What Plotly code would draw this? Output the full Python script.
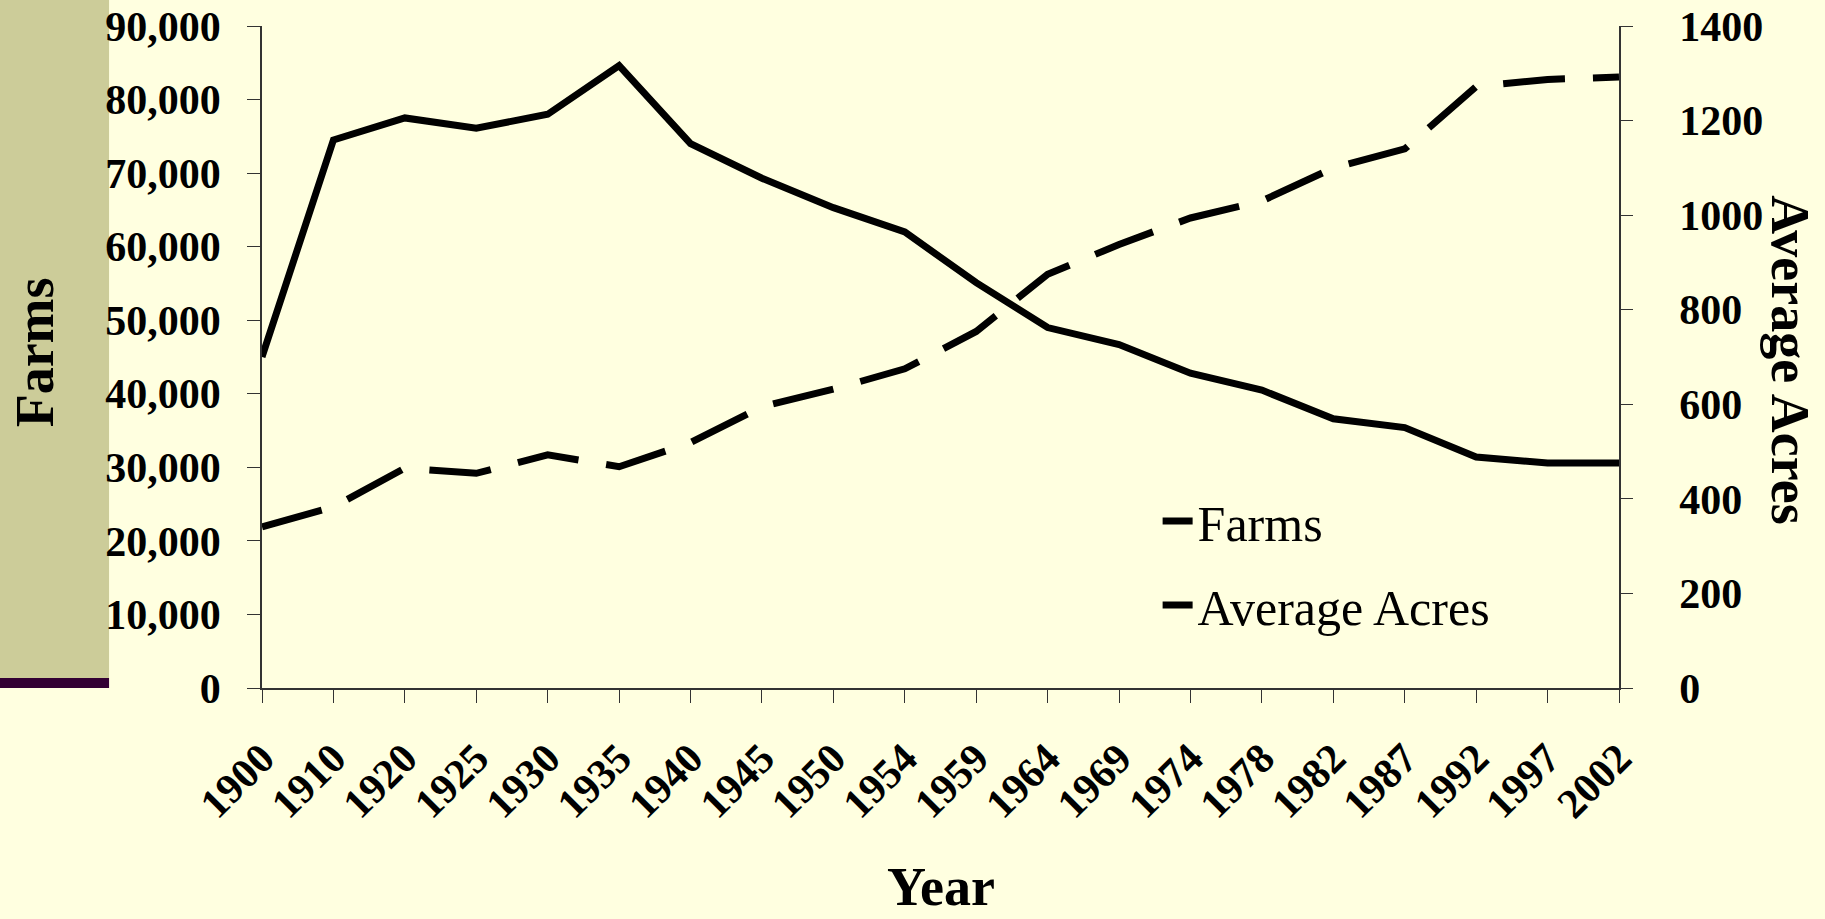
import plotly.graph_objects as go

# data
years = ["1900", "1910", "1920", "1925", "1930", "1935", "1940", "1945", "1950", "1954",
         "1959", "1964", "1969", "1974", "1978", "1982", "1987", "1992", "1997", "2002"]
farms = [45000, 74500, 77500, 76100, 78000, 84600, 74000, 69300, 65300, 62000,
         55100, 49000, 46700, 42800, 40500, 36600, 35400, 31400, 30600, 30600]
avg_acres = [341, 383, 465, 454, 493, 468, 519, 595, 632, 675,
             754, 875, 938, 994, 1030, 1100, 1140, 1272, 1287, 1292]

BG = "#FFFFE0"
serif = "Liberation Serif"

fig = go.Figure()

fig.add_trace(go.Scatter(
    x=years, y=farms, name="Farms", mode="lines",
    line=dict(color="black", width=7), legendgroup="a",
))
fig.add_trace(go.Scatter(
    x=years, y=avg_acres, name="Average Acres", mode="lines", yaxis="y2",
    line=dict(color="black", width=7, dash="62px,28px"), legendgroup="b",
))

tick_font = dict(family=serif, size=42, color="black", weight="bold")
title_font = dict(family=serif, size=54, color="black", weight="bold")

fig.update_layout(
    width=1825, height=919,
    paper_bgcolor=BG, plot_bgcolor=BG,
    margin=dict(l=262, r=206, t=26, b=231, autoexpand=False),
    xaxis=dict(
        type="category", range=[0, len(years) - 1], autorange=False,
        showline=True, linecolor="#333333", linewidth=1.5,
        ticks="outside", ticklen=13, tickcolor="#333333",
        tickangle=-45, tickfont=tick_font, showgrid=False,
        ticklabelstandoff=14, automargin=False,
    ),
    yaxis=dict(
        range=[0, 90000], dtick=10000, tickformat=",d",
        showline=True, linecolor="#333333", linewidth=1.5,
        ticks="outside", ticklen=13, tickcolor="#333333",
        tickfont=tick_font, showgrid=False, zeroline=False,
        ticklabelstandoff=18, automargin=False,
    ),
    yaxis2=dict(
        range=[0, 1400], dtick=200, tickformat="d",
        overlaying="y", side="right",
        showline=True, linecolor="#333333", linewidth=1.5,
        ticks="outside", ticklen=12, tickcolor="#333333",
        tickfont=tick_font, showgrid=False, zeroline=False,
        ticklabelstandoff=38, automargin=False,
    ),
    legend=dict(
        x=0.66, y=0.311, xanchor="left", yanchor="top",
        bgcolor="rgba(0,0,0,0)", tracegroupgap=16,
        font=dict(family=serif, size=50, color="black"),
    ),
    shapes=[
        dict(type="rect", xref="paper", yref="paper",
             x0=-0.1931, x1=-0.1127, y0=0.0151, y1=1.04,
             fillcolor="#CCCC99", line=dict(width=0), layer="below"),
        dict(type="rect", xref="paper", yref="paper",
             x0=-0.1931, x1=-0.1127, y0=0.0, y1=0.0151,
             fillcolor="#330033", line=dict(width=0), layer="below"),
    ],
    annotations=[
        dict(text="Farms", xref="paper", yref="paper", x=-0.1673, y=0.507,
             xanchor="center", yanchor="middle",
             textangle=-90, showarrow=False, font=title_font),
        dict(text="Average Acres", xref="paper", yref="paper", x=1.126, y=0.495,
             xanchor="center", yanchor="middle",
             textangle=90, showarrow=False, font=title_font),
        dict(text="Year", xref="paper", yref="paper", x=0.5, y=-0.3,
             xanchor="center", yanchor="middle",
             showarrow=False, font=title_font),
    ],
)

# page margin off so the figure sits at the window corner
fig.write_html("out.html", config={"displayModeBar": False},
               post_script="document.body.style.margin='0';")
